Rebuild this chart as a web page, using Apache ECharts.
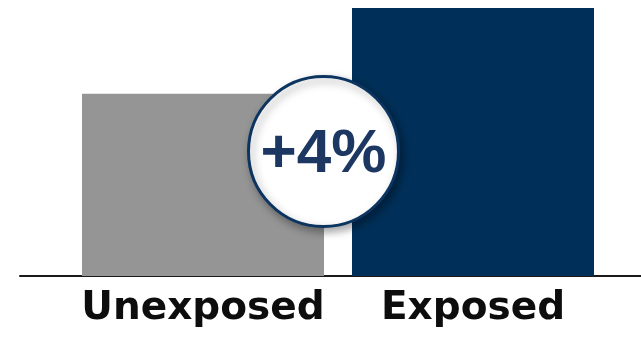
<!DOCTYPE html>
<html><head><meta charset="utf-8">
<script src="https://cdn.jsdelivr.net/npm/echarts@6/dist/echarts.min.js"></script>
<style>html,body{margin:0;padding:0;background:#fff}#c{width:641px;height:342px}</style>
</head><body><div id="c"></div>
<script>
const categories = ['Unexposed', 'Exposed'];
const values = [68, 100];
const barColors = ['#959595', '#003059'];
const badgeText = '+4%';

const chart = echarts.init(document.getElementById('c'), null, {renderer: 'canvas'});
chart.setOption({
  animation: false,
  grid: [
    {left: 68, right: 33, top: 8, bottom: 66},
    {left: 20, right: 0, top: 8, bottom: 66}
  ],
  xAxis: [
    {type: 'category', gridIndex: 0, data: categories,
     axisLine: {show: false}, axisTick: {show: false},
     axisLabel: {interval: 0, fontSize: 39, fontWeight: 'bold', color: '#0d0d0d', margin: 13, fontFamily: 'DejaVu Sans'}},
    {type: 'category', gridIndex: 1, data: [''],
     axisLine: {show: true, lineStyle: {color: '#1a1a1a', width: 2}},
     axisTick: {show: false}, axisLabel: {show: false}}
  ],
  yAxis: [
    {type: 'value', gridIndex: 0, min: 0, max: 100, show: false},
    {type: 'value', gridIndex: 1, min: 0, max: 100, show: false}
  ],
  series: [{
    type: 'bar', xAxisIndex: 0, yAxisIndex: 0, barWidth: 242,
    data: values.map((v, i) => ({value: v, itemStyle: {color: barColors[i]}}))
  }],
  graphic: [{
    type: 'group', left: 247, top: 75, z: 100,
    children: [
      {type: 'circle', z: 100, shape: {cx: 77, cy: 77, r: 75},
       style: {fill: '#fff', stroke: '#0b3560', lineWidth: 3,
               shadowBlur: 8, shadowOffsetX: 3, shadowOffsetY: 4, shadowColor: 'rgba(0,0,0,0.35)'}},
      {type: 'text', z: 101, x: 77, y: 80,
       style: {text: badgeText, fill: '#1c3761', font: 'bold 62px "Liberation Sans"', align: 'center', verticalAlign: 'middle'}}
    ]
  }]
});
</script></body></html>
